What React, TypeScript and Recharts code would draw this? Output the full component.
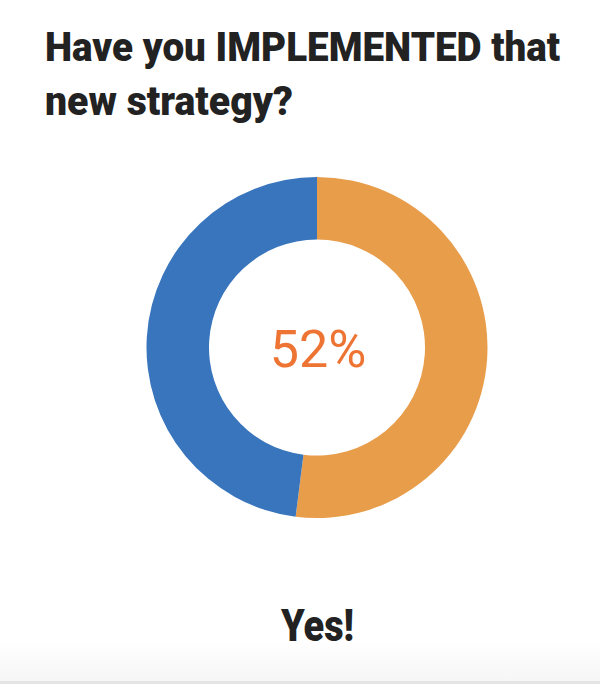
import { PieChart, Pie, Cell } from 'recharts'

const answers = ['Yes', 'No']
const shares = [52, 48]
const colors = ['#E89D4B', '#3875BD']

const headline = ['Have you IMPLEMENTED that', 'new strategy?']
const centerText = '52%'
const footerText = 'Yes!'

export default function App() {
  const data = answers.map((name, i) => ({ name, value: shares[i] }))

  return (
    <div style={{ position: 'absolute', left: 0, top: 0, width: 600, height: 684, background: '#fff', overflow: 'hidden' }}>
      {/* faint footer shading */}
      <div
        style={{
          position: 'absolute',
          left: 0,
          top: 640,
          width: 600,
          height: 41,
          background: 'linear-gradient(#ffffff, #f6f6f6)',
        }}
      />
      <div style={{ position: 'absolute', left: 0, top: 681, width: 600, height: 3, background: '#e4e4e4' }} />

      <div style={{ position: 'absolute', left: 0, top: 0 }}>
        <PieChart width={600} height={684} margin={{ top: 0, right: 0, bottom: 0, left: 0 }}>
          <Pie
            data={data}
            dataKey="value"
            nameKey="name"
            cx={317}
            cy={347.5}
            innerRadius={108}
            outerRadius={170.5}
            startAngle={90}
            endAngle={-270}
            stroke="none"
            isAnimationActive={false}
          >
            {data.map((d, i) => (
              <Cell key={d.name} fill={colors[i]} />
            ))}
          </Pie>
        </PieChart>
      </div>

      <svg width={600} height={684} style={{ position: 'absolute', left: 0, top: 0, pointerEvents: 'none' }}>
        <text
          x={45}
          y={61}
          fontFamily="Roboto, sans-serif"
          fontWeight={900}
          fontSize={40}
          fill="#222"
          textLength={515}
          lengthAdjust="spacingAndGlyphs"
        >
          {headline[0]}
        </text>
        <text
          x={45}
          y={115}
          fontFamily="Roboto, sans-serif"
          fontWeight={900}
          fontSize={40}
          fill="#222"
          textLength={248}
          lengthAdjust="spacingAndGlyphs"
        >
          {headline[1]}
        </text>
        <text
          x={318}
          y={367}
          textAnchor="middle"
          fontFamily="Roboto, sans-serif"
          fontSize={52}
          fill="#EE7434"
        >
          {centerText}
        </text>
        <text
          x={281}
          y={641}
          fontFamily="Roboto, sans-serif"
          fontWeight={900}
          fontSize={45}
          fill="#222"
          textLength={73}
          lengthAdjust="spacingAndGlyphs"
        >
          {footerText}
        </text>
      </svg>
    </div>
  )
}
